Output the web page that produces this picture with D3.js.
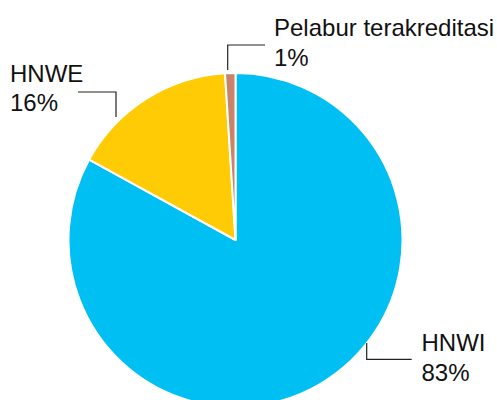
<!DOCTYPE html>
<html>
<head>
<meta charset="utf-8">
<script src="https://cdn.jsdelivr.net/npm/d3@7"></script>
<style>
  html, body { margin: 0; padding: 0; background: #fff; }
  svg { display: block; }
  text { font-family: "Liberation Sans", Arial, sans-serif; font-size: 24px; fill: #111; }
</style>
</head>
<body>
<div id="chart"></div>
<script>
var categories = ["HNWI", "HNWE", "Pelabur terakreditasi"];
var values = [83, 16, 1];
var valueLabels = ["83%", "16%", "1%"];
var colors = ["#00c0f3", "#ffcb05", "#c9836a"];

var width = 497, height = 400;
var cx = 235.5, cy = 240, radius = 167;

// where each label + leader line sits (relative to pie centre)
var labelLayout = [
  {line: [[131.2, 103], [131.2, 119.3], [176.2, 119.3]], tx: 186, ty: 111},
  {line: [[-119.5, -123], [-119.5, -148], [-157.5, -148]], tx: -225.5, ty: -158.3},
  {line: [[-7.8, -170], [-7.8, -195], [29.5, -195]], tx: 38.5, ty: -204}
];

var svg = d3.select("#chart").append("svg")
  .attr("width", width)
  .attr("height", height);

var g = svg.append("g").attr("transform", "translate(" + cx + "," + cy + ")");

var pie = d3.pie().sort(null).value(function(d) { return d; });
var arc = d3.arc().innerRadius(0).outerRadius(radius);

var arcs = pie(values);

g.selectAll("path.slice")
  .data(arcs)
  .join("path")
    .attr("class", "slice")
    .attr("d", arc)
    .attr("fill", function(d, i) { return colors[i]; })
    .attr("stroke", "#fff")
    .attr("stroke-width", 2)
    .attr("stroke-linejoin", "round");

var line = d3.line();

g.selectAll("path.leader")
  .data(labelLayout)
  .join("path")
    .attr("class", "leader")
    .attr("d", function(d) { return line(d.line); })
    .attr("fill", "none")
    .attr("stroke", "#222")
    .attr("stroke-width", 1.2);

var labels = g.selectAll("text.lbl")
  .data(labelLayout)
  .join("text")
    .attr("class", "lbl")
    .attr("x", function(d) { return d.tx; })
    .attr("y", function(d) { return d.ty; });

labels.append("tspan")
  .attr("x", function(d) { return d.tx; })
  .text(function(d, i) { return categories[i]; });

labels.append("tspan")
  .attr("x", function(d) { return d.tx; })
  .attr("dy", 29.5)
  .text(function(d, i) { return valueLabels[i]; });
</script>
</body>
</html>
